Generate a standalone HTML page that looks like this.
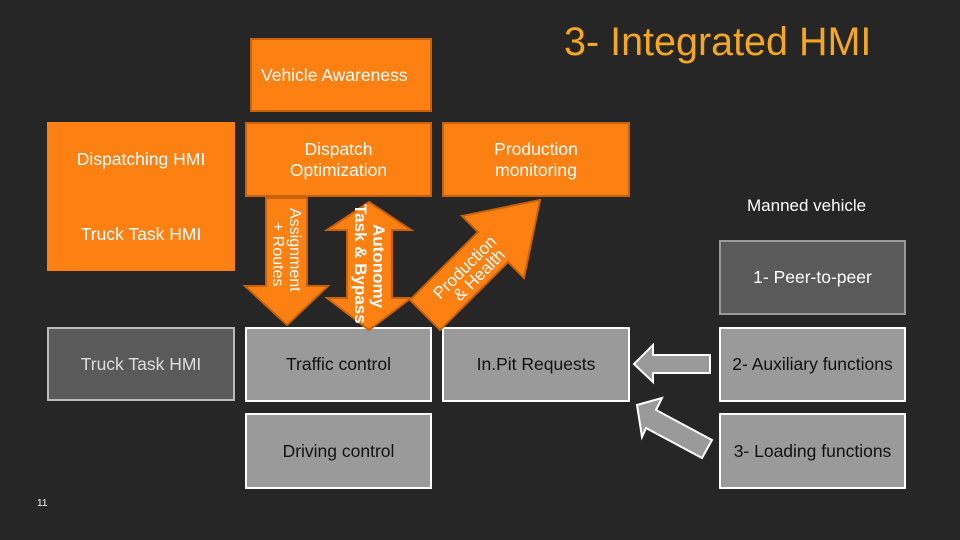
<html><head><style>
body{margin:0;width:960px;height:540px;background:#262626;position:relative;overflow:hidden;font-family:"Liberation Sans",sans-serif}
.b{position:absolute;box-sizing:border-box;display:flex;align-items:center;justify-content:center;text-align:center;font-size:17.5px;line-height:21px}
.o{background:#fd8112;border:2px solid #c9620a;color:#fff}
.g{background:#9a9a9a;border:2px solid #fff;color:#111}
.d{background:#5a5a5a;border:2px solid #9a9a9a;color:#fff}
</style></head><body>
<div style="position:absolute;left:564px;top:20px;color:#f5a623;font-size:39.5px">3- Integrated HMI</div>
<div class="b o" style="left:250px;top:38px;width:182px;height:74px;justify-content:flex-start;align-items:flex-start;padding:25px 0 0 9px">Vehicle Awareness</div>
<div class="b o" style="left:47px;top:122px;width:188px;height:75px;border-color:#fd8112">Dispatching HMI</div>
<div class="b o" style="left:245px;top:122px;width:187px;height:75px">Dispatch<br>Optimization</div>
<div class="b o" style="left:442px;top:122px;width:188px;height:75px">Production<br>monitoring</div>
<div class="b o" style="left:47px;top:197px;width:188px;height:74px;border-color:#fd8112">Truck Task HMI</div>
<div class="b d" style="left:47px;top:327px;width:188px;height:74px;color:#ddd;border-color:#bbb">Truck Task HMI</div>
<div class="b g" style="left:245px;top:327px;width:187px;height:75px">Traffic control</div>
<div class="b g" style="left:442px;top:327px;width:188px;height:75px">In.Pit Requests</div>
<div class="b g" style="left:245px;top:413px;width:187px;height:76px">Driving control</div>
<div style="position:absolute;left:747px;top:196px;color:#fff;font-size:17px">Manned vehicle</div>
<div class="b d" style="left:719px;top:240px;width:187px;height:75px">1- Peer-to-peer</div>
<div class="b g" style="left:719px;top:327px;width:187px;height:75px">2- Auxiliary functions</div>
<div class="b g" style="left:719px;top:413px;width:187px;height:76px">3- Loading functions</div>
<div style="position:absolute;left:37px;top:498px;color:#fff;font-size:10px">11</div>
<svg width="960" height="540" style="position:absolute;left:0;top:0">
<g fill="#fd8112" stroke="#c9620a" stroke-width="2">
<polygon points="266,198 307,198 307,286 328,286 287,325 245,286 266,286"/>
<polygon points="369,202 411,230 392,230 392,298 411,298 369,330 327,298 347,298 347,230 327,230"/>
<polygon points="410,300 478,232 462,216 540,200 524,278 508,262 440,330"/>
</g>
<g fill="#9a9a9a" stroke="#fff" stroke-width="2">
<polygon points="634,364 653,345 653,355 710,355 710,373 653,373 653,382"/>
<polygon points="637,405 662,398 656,410 712,440 702,458 646,428 642,437"/>
</g>
<text transform="translate(290,208) rotate(90)" fill="#fff" font-size="16">Assignment</text>
<text transform="translate(273,222) rotate(90)" fill="#fff" font-size="16">+ Routes</text>
<text transform="translate(373,224) rotate(90)" fill="#fff" font-size="17" font-weight="bold">Autonomy</text>
<text transform="translate(355,204) rotate(90)" fill="#fff" font-size="17" font-weight="bold">Task &amp; Bypass</text>
<text transform="translate(440,300) rotate(-45)" fill="#fff" font-size="17">Production</text>
<text transform="translate(460,302) rotate(-45)" fill="#fff" font-size="17">&amp; Health</text>
</svg>
</body></html>
